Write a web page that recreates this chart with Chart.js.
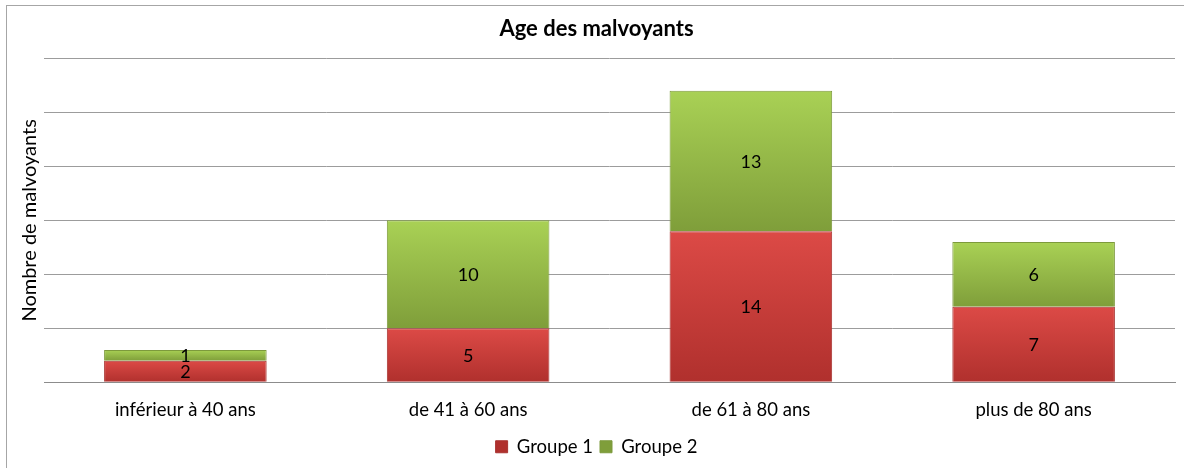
<!DOCTYPE html>
<html>
<head>
<meta charset="utf-8">
<script src="https://cdn.jsdelivr.net/npm/chart.js@4.4.1/dist/chart.umd.min.js"></script>
<style>
  html, body { margin: 0; padding: 0; background: #fff; }
  #wrap { width: 1184px; height: 468px; }
</style>
</head>
<body>
<div id="wrap"><canvas id="ageChart"></canvas></div>
<script>
var categories = ["inférieur à 40 ans", "de 41 à 60 ans", "de 61 à 80 ans", "plus de 80 ans"];
var groupe1 = [2, 5, 14, 7];
var groupe2 = [1, 10, 13, 6];
var yTicks = [0, 5, 10, 15, 20, 25, 30];

var FONT = "Lato, 'Open Sans', sans-serif";

// light-to-dark vertical gradient per bar segment
function segmentFill(top, bottom) {
    return function(context) {
        var chart = context.chart;
        var y = chart.scales.y;
        if (!chart.chartArea || !y || context.dataIndex === undefined) return bottom;
        var i = context.dataIndex;
        var base = 0;
        for (var d = 0; d < context.datasetIndex; d++) {
            base += chart.data.datasets[d].data[i];
        }
        var val = chart.data.datasets[context.datasetIndex].data[i];
        var yTop = y.getPixelForValue(base + val);
        var yBot = y.getPixelForValue(base);
        if (!isFinite(yTop) || !isFinite(yBot) || yTop === yBot) return bottom;
        var g = chart.ctx.createLinearGradient(0, yTop, 0, yBot);
        g.addColorStop(0, top);
        g.addColorStop(1, bottom);
        return g;
    };
}

var valueLabels = {
    id: "valueLabels",
    afterDatasetsDraw: function(chart) {
        var ctx = chart.ctx;
        ctx.save();
        ctx.font = "18px " + FONT;
        ctx.fillStyle = "#000";
        ctx.textAlign = "center";
        ctx.textBaseline = "middle";
        chart.data.datasets.forEach(function(ds, di) {
            var meta = chart.getDatasetMeta(di);
            meta.data.forEach(function(bar, i) {
                ctx.fillText(String(ds.data[i]), bar.x, (bar.y + bar.base) / 2 + 1);
            });
        });
        ctx.restore();
    }
};

var frame = {
    id: "frame",
    beforeDraw: function(chart) {
        var ctx = chart.ctx;
        ctx.save();
        ctx.fillStyle = "#fff";
        ctx.fillRect(0, 0, chart.width, chart.height);
        ctx.strokeStyle = "#a6a6a6";
        ctx.lineWidth = 1;
        ctx.strokeRect(6.5, 5.5, chart.width + 10, chart.height + 10);
        ctx.restore();
    }
};

document.addEventListener("DOMContentLoaded", function() {
    var ctx = document.getElementById("ageChart").getContext("2d");
    new Chart(ctx, {
        type: "bar",
        data: {
            labels: categories,
            datasets: [{
                label: "Groupe 1",
                data: groupe1,
                backgroundColor: segmentFill("#dc4a46", "#b0302d"),
                borderColor: "#a83330",
                borderWidth: 1,
                categoryPercentage: 0.575,
                barPercentage: 1
            }, {
                label: "Groupe 2",
                data: groupe2,
                backgroundColor: segmentFill("#a9d155", "#7f9e3a"),
                borderColor: "#7d9a3c",
                borderWidth: 1,
                categoryPercentage: 0.575,
                barPercentage: 1
            }]
        },
        options: {
            responsive: true,
            maintainAspectRatio: false,
            animation: false,
            layout: { padding: { left: 18, right: 9, top: 0, bottom: 2 } },
            scales: {
                x: {
                    stacked: true,
                    grid: { display: false },
                    border: { color: "#8c8c8c" },
                    ticks: { color: "#000", font: { family: FONT, size: 18.5 }, padding: 9 }
                },
                y: {
                    stacked: true,
                    min: 0,
                    max: 30,
                    afterBuildTicks: function(scale) {
                        scale.ticks = yTicks.map(function(v) { return { value: v }; });
                    },
                    ticks: { display: false },
                    border: { display: false },
                    grid: { color: "#9c9c9c", drawTicks: false },
                    title: {
                        display: true,
                        text: "Nombre de malvoyants",
                        color: "#000",
                        font: { family: FONT, size: 20 },
                        padding: { top: 0, bottom: 2 }
                    }
                }
            },
            plugins: {
                title: {
                    display: true,
                    text: "Age des malvoyants",
                    color: "#000",
                    font: { family: FONT, size: 22, weight: "bold" },
                    padding: { top: 16, bottom: 16 }
                },
                legend: {
                    position: "bottom",
                    labels: {
                        color: "#000",
                        font: { family: FONT, size: 18.5 },
                        boxWidth: 12,
                        boxHeight: 12,
                        padding: 7
                    }
                },
                tooltip: { enabled: false }
            }
        },
        plugins: [frame, valueLabels]
    });
});
</script>
</body>
</html>
